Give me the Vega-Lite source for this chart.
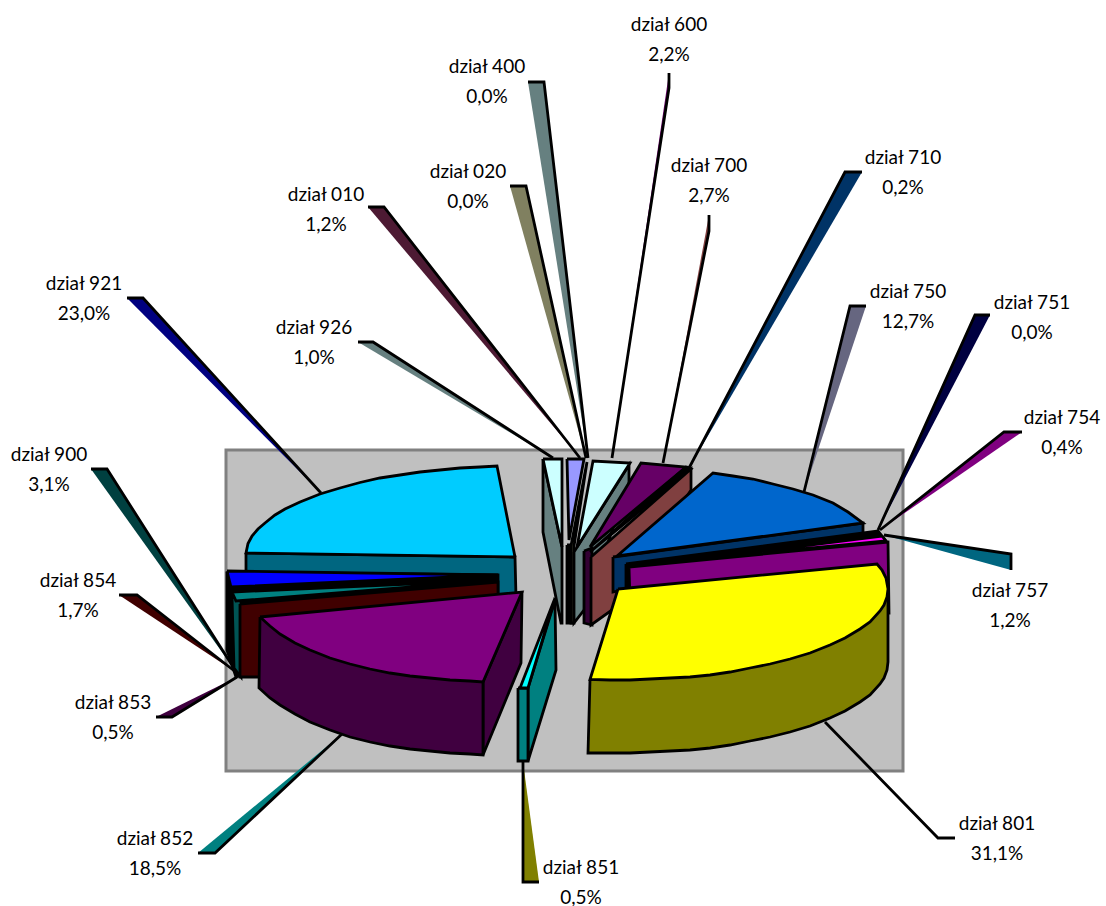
{"$schema":"https://vega.github.io/schema/vega-lite/v6.json","width":1106,"height":906,"padding":0,"autosize":{"type":"none"},"background":"white","config":{"view":{"stroke":null}},
"datasets":{
"panel":[{"x":226,"x2":903,"y":450,"y2":771}],
"leaders":[
{"shape":"400","i":0,"x":528,"y":82},{"shape":"400","i":1,"x":544,"y":82},{"shape":"400","i":2,"x":588,"y":458},
{"shape":"020","i":0,"x":510,"y":186},{"shape":"020","i":1,"x":526,"y":186},{"shape":"020","i":2,"x":586,"y":458},
{"shape":"010","i":0,"x":368,"y":207},{"shape":"010","i":1,"x":384,"y":207},{"shape":"010","i":2,"x":580,"y":458},
{"shape":"926","i":0,"x":358,"y":342},{"shape":"926","i":1,"x":373,"y":342},{"shape":"926","i":2,"x":553,"y":458},
{"shape":"600","i":0,"x":669,"y":73},{"shape":"600","i":1,"x":669,"y":88},{"shape":"600","i":2,"x":612,"y":458},
{"shape":"700","i":0,"x":709,"y":215},{"shape":"700","i":1,"x":709,"y":231},{"shape":"700","i":2,"x":663,"y":463},
{"shape":"710","i":0,"x":862,"y":172},{"shape":"710","i":1,"x":845,"y":172},{"shape":"710","i":2,"x":688,"y":470},
{"shape":"750","i":0,"x":866,"y":306},{"shape":"750","i":1,"x":850,"y":306},{"shape":"750","i":2,"x":804,"y":492},
{"shape":"751","i":0,"x":990,"y":315},{"shape":"751","i":1,"x":975,"y":315},{"shape":"751","i":2,"x":878,"y":530},
{"shape":"754","i":0,"x":1022,"y":432},{"shape":"754","i":1,"x":1004,"y":432},{"shape":"754","i":2,"x":880,"y":530},
{"shape":"757","i":0,"x":1011,"y":570},{"shape":"757","i":1,"x":1011,"y":554},{"shape":"757","i":2,"x":884,"y":535},
{"shape":"801","i":0,"x":955,"y":838},{"shape":"801","i":1,"x":938,"y":838},{"shape":"801","i":2,"x":825,"y":722},
{"shape":"852","i":0,"x":198,"y":853},{"shape":"852","i":1,"x":215,"y":853},{"shape":"852","i":2,"x":342,"y":734},
{"shape":"851","i":0,"x":539,"y":882},{"shape":"851","i":1,"x":523,"y":882},{"shape":"851","i":2,"x":523,"y":762},
{"shape":"853","i":0,"x":156,"y":717},{"shape":"853","i":1,"x":172,"y":717},{"shape":"853","i":2,"x":237,"y":677},
{"shape":"854","i":0,"x":119,"y":595},{"shape":"854","i":1,"x":137,"y":595},{"shape":"854","i":2,"x":237,"y":673},
{"shape":"900","i":0,"x":91,"y":469},{"shape":"900","i":1,"x":107,"y":469},{"shape":"900","i":2,"x":237,"y":673},
{"shape":"921","i":0,"x":127,"y":298},{"shape":"921","i":1,"x":143,"y":298},{"shape":"921","i":2,"x":321,"y":493}
],
"faces":[
{"shape":"921 wall","i":0,"x":246,"y":553},{"shape":"921 wall","i":1,"x":515,"y":557},{"shape":"921 wall","i":2,"x":516,"y":597},{"shape":"921 wall","i":3,"x":246,"y":590},{"shape":"921 wall","i":4,"x":246,"y":553},
{"shape":"921 top","i":0,"x":515,"y":557},{"shape":"921 top","i":1,"x":497,"y":466},{"shape":"921 top","i":2,"x":480,"y":467},{"shape":"921 top","i":3,"x":460,"y":468},{"shape":"921 top","i":4,"x":440,"y":470},{"shape":"921 top","i":5,"x":420,"y":472},{"shape":"921 top","i":6,"x":400,"y":475},{"shape":"921 top","i":7,"x":380,"y":478},{"shape":"921 top","i":8,"x":360,"y":482.5},{"shape":"921 top","i":9,"x":340,"y":488},{"shape":"921 top","i":10,"x":320,"y":494},{"shape":"921 top","i":11,"x":300,"y":502},{"shape":"921 top","i":12,"x":285,"y":509},{"shape":"921 top","i":13,"x":275,"y":515},{"shape":"921 top","i":14,"x":265,"y":523},{"shape":"921 top","i":15,"x":258,"y":529},{"shape":"921 top","i":16,"x":252,"y":536},{"shape":"921 top","i":17,"x":248,"y":543.5},{"shape":"921 top","i":18,"x":246,"y":553},{"shape":"921 top","i":19,"x":515,"y":557},
{"shape":"900 wall","i":0,"x":227,"y":572},{"shape":"900 wall","i":1,"x":498,"y":575},{"shape":"900 wall","i":2,"x":498,"y":592},{"shape":"900 wall","i":3,"x":236,"y":677},{"shape":"900 wall","i":4,"x":227,"y":650},{"shape":"900 wall","i":5,"x":227,"y":572},
{"shape":"900 top","i":0,"x":227,"y":571},{"shape":"900 top","i":1,"x":498,"y":575},{"shape":"900 top","i":2,"x":231,"y":587},{"shape":"900 top","i":3,"x":227,"y":571},
{"shape":"853 wall","i":0,"x":232,"y":597},{"shape":"853 wall","i":1,"x":241,"y":600},{"shape":"853 wall","i":2,"x":241,"y":677},{"shape":"853 wall","i":3,"x":234,"y":668},{"shape":"853 wall","i":4,"x":232,"y":597},
{"shape":"853 top","i":0,"x":232,"y":592},{"shape":"853 top","i":1,"x":498,"y":580},{"shape":"853 top","i":2,"x":236,"y":601},{"shape":"853 top","i":3,"x":232,"y":592},
{"shape":"854 wall","i":0,"x":240,"y":604},{"shape":"854 wall","i":1,"x":498,"y":582},{"shape":"854 wall","i":2,"x":498,"y":594},{"shape":"854 wall","i":3,"x":262,"y":677},{"shape":"854 wall","i":4,"x":240,"y":677},{"shape":"854 wall","i":5,"x":240,"y":604},
{"shape":"926 wall","i":0,"x":543,"y":459},{"shape":"926 wall","i":1,"x":562,"y":547},{"shape":"926 wall","i":2,"x":562,"y":623},{"shape":"926 wall","i":3,"x":561,"y":623},{"shape":"926 wall","i":4,"x":543,"y":532},{"shape":"926 wall","i":5,"x":543,"y":459},
{"shape":"926 top","i":0,"x":543,"y":459},{"shape":"926 top","i":1,"x":562,"y":459},{"shape":"926 top","i":2,"x":562,"y":547},{"shape":"926 top","i":3,"x":543,"y":459},
{"shape":"400 wall","i":0,"x":567,"y":545},{"shape":"400 wall","i":1,"x":572,"y":545},{"shape":"400 wall","i":2,"x":572,"y":623},{"shape":"400 wall","i":3,"x":567,"y":623},{"shape":"400 wall","i":4,"x":567,"y":545},
{"shape":"400 top","i":0,"x":567,"y":459},{"shape":"400 top","i":1,"x":584,"y":459},{"shape":"400 top","i":2,"x":569,"y":540},{"shape":"400 top","i":3,"x":567,"y":459},
{"shape":"020 wall","i":0,"x":587,"y":462},{"shape":"020 wall","i":1,"x":574,"y":546},{"shape":"020 wall","i":2,"x":574,"y":623},{"shape":"020 wall","i":3,"x":571,"y":623},{"shape":"020 wall","i":4,"x":571,"y":546},{"shape":"020 wall","i":5,"x":587,"y":462},
{"shape":"600 wall","i":0,"x":574,"y":552},{"shape":"600 wall","i":1,"x":629,"y":465},{"shape":"600 wall","i":2,"x":629,"y":483},{"shape":"600 wall","i":3,"x":584,"y":610},{"shape":"600 wall","i":4,"x":574,"y":623},{"shape":"600 wall","i":5,"x":574,"y":552},
{"shape":"600 top","i":0,"x":577,"y":547},{"shape":"600 top","i":1,"x":593,"y":461},{"shape":"600 top","i":2,"x":630,"y":463},{"shape":"600 top","i":3,"x":577,"y":547},
{"shape":"700 wall","i":0,"x":584,"y":551},{"shape":"700 wall","i":1,"x":592,"y":548},{"shape":"700 wall","i":2,"x":592,"y":625},{"shape":"700 wall","i":3,"x":584,"y":623},{"shape":"700 wall","i":4,"x":584,"y":551},
{"shape":"700 top","i":0,"x":590,"y":547},{"shape":"700 top","i":1,"x":641,"y":463},{"shape":"700 top","i":2,"x":686,"y":467},{"shape":"700 top","i":3,"x":590,"y":547},
{"shape":"710 top","i":0,"x":590,"y":552},{"shape":"710 top","i":1,"x":686,"y":467},{"shape":"710 top","i":2,"x":691,"y":469},{"shape":"710 top","i":3,"x":590,"y":552},
{"shape":"710 wall","i":0,"x":591,"y":557},{"shape":"710 wall","i":1,"x":691,"y":469},{"shape":"710 wall","i":2,"x":691,"y":490},{"shape":"710 wall","i":3,"x":612,"y":610},{"shape":"710 wall","i":4,"x":591,"y":625},{"shape":"710 wall","i":5,"x":591,"y":557},
{"shape":"750 wall","i":0,"x":613,"y":557},{"shape":"750 wall","i":1,"x":863,"y":523},{"shape":"750 wall","i":2,"x":863,"y":535},{"shape":"750 wall","i":3,"x":613,"y":592},{"shape":"750 wall","i":4,"x":613,"y":557},
{"shape":"750 top","i":0,"x":617,"y":556},{"shape":"750 top","i":1,"x":713,"y":473},{"shape":"750 top","i":2,"x":733,"y":476},{"shape":"750 top","i":3,"x":753,"y":479},{"shape":"750 top","i":4,"x":773,"y":484},{"shape":"750 top","i":5,"x":793,"y":489},{"shape":"750 top","i":6,"x":813,"y":495},{"shape":"750 top","i":7,"x":833,"y":503},{"shape":"750 top","i":8,"x":848,"y":512},{"shape":"750 top","i":9,"x":863,"y":523},{"shape":"750 top","i":10,"x":617,"y":556},
{"shape":"754 wall","i":0,"x":626,"y":564},{"shape":"754 wall","i":1,"x":878,"y":531},{"shape":"754 wall","i":2,"x":886,"y":541},{"shape":"754 wall","i":3,"x":886,"y":560},{"shape":"754 wall","i":4,"x":626,"y":592},{"shape":"754 wall","i":5,"x":626,"y":564},
{"shape":"757 top","i":0,"x":882,"y":536},{"shape":"757 top","i":1,"x":886,"y":541},{"shape":"757 top","i":2,"x":707,"y":558},{"shape":"757 top","i":3,"x":882,"y":536},
{"shape":"757 wall","i":0,"x":629,"y":567},{"shape":"757 wall","i":1,"x":888,"y":542},{"shape":"757 wall","i":2,"x":889,"y":613},{"shape":"757 wall","i":3,"x":630,"y":600},{"shape":"757 wall","i":4,"x":629,"y":567},
{"shape":"801 wall","i":0,"x":590,"y":680},{"shape":"801 wall","i":1,"x":588,"y":753},{"shape":"801 wall","i":2,"x":610,"y":753},{"shape":"801 wall","i":3,"x":630,"y":753},{"shape":"801 wall","i":4,"x":650,"y":752},{"shape":"801 wall","i":5,"x":670,"y":751},{"shape":"801 wall","i":6,"x":690,"y":750},{"shape":"801 wall","i":7,"x":710,"y":748},{"shape":"801 wall","i":8,"x":730,"y":745},{"shape":"801 wall","i":9,"x":750,"y":741},{"shape":"801 wall","i":10,"x":770,"y":737},{"shape":"801 wall","i":11,"x":790,"y":732},{"shape":"801 wall","i":12,"x":810,"y":726},{"shape":"801 wall","i":13,"x":830,"y":718},{"shape":"801 wall","i":14,"x":845,"y":711},{"shape":"801 wall","i":15,"x":860,"y":702},{"shape":"801 wall","i":16,"x":870,"y":695},{"shape":"801 wall","i":17,"x":880,"y":684},{"shape":"801 wall","i":18,"x":884,"y":678},{"shape":"801 wall","i":19,"x":887,"y":670},{"shape":"801 wall","i":20,"x":888,"y":662},{"shape":"801 wall","i":21,"x":888,"y":589},{"shape":"801 wall","i":22,"x":590,"y":680},
{"shape":"801 top","i":0,"x":618,"y":589},{"shape":"801 top","i":1,"x":877,"y":564},{"shape":"801 top","i":2,"x":882,"y":570},{"shape":"801 top","i":3,"x":886,"y":578},{"shape":"801 top","i":4,"x":888,"y":589},{"shape":"801 top","i":5,"x":887,"y":597},{"shape":"801 top","i":6,"x":884,"y":605},{"shape":"801 top","i":7,"x":880,"y":611},{"shape":"801 top","i":8,"x":870,"y":622},{"shape":"801 top","i":9,"x":860,"y":629},{"shape":"801 top","i":10,"x":845,"y":638},{"shape":"801 top","i":11,"x":830,"y":645},{"shape":"801 top","i":12,"x":810,"y":653},{"shape":"801 top","i":13,"x":790,"y":659},{"shape":"801 top","i":14,"x":770,"y":664},{"shape":"801 top","i":15,"x":750,"y":668},{"shape":"801 top","i":16,"x":730,"y":672},{"shape":"801 top","i":17,"x":710,"y":675},{"shape":"801 top","i":18,"x":690,"y":677},{"shape":"801 top","i":19,"x":670,"y":678},{"shape":"801 top","i":20,"x":650,"y":679},{"shape":"801 top","i":21,"x":630,"y":680},{"shape":"801 top","i":22,"x":610,"y":680},{"shape":"801 top","i":23,"x":590,"y":679.5},{"shape":"801 top","i":24,"x":618,"y":589},
{"shape":"852 side","i":0,"x":522,"y":592},{"shape":"852 side","i":1,"x":521,"y":663},{"shape":"852 side","i":2,"x":483,"y":755},{"shape":"852 side","i":3,"x":483,"y":682},{"shape":"852 side","i":4,"x":522,"y":592},
{"shape":"852 wall","i":0,"x":260,"y":617},{"shape":"852 wall","i":1,"x":259,"y":688},{"shape":"852 wall","i":2,"x":270,"y":698},{"shape":"852 wall","i":3,"x":280,"y":705},{"shape":"852 wall","i":4,"x":295,"y":714},{"shape":"852 wall","i":5,"x":310,"y":722},{"shape":"852 wall","i":6,"x":330,"y":730},{"shape":"852 wall","i":7,"x":350,"y":737},{"shape":"852 wall","i":8,"x":370,"y":742},{"shape":"852 wall","i":9,"x":390,"y":746},{"shape":"852 wall","i":10,"x":410,"y":749},{"shape":"852 wall","i":11,"x":430,"y":751},{"shape":"852 wall","i":12,"x":450,"y":753},{"shape":"852 wall","i":13,"x":470,"y":754},{"shape":"852 wall","i":14,"x":483,"y":755},{"shape":"852 wall","i":15,"x":483,"y":682},{"shape":"852 wall","i":16,"x":260,"y":617},
{"shape":"852 top","i":0,"x":260,"y":617},{"shape":"852 top","i":1,"x":522,"y":592},{"shape":"852 top","i":2,"x":483,"y":682},{"shape":"852 top","i":3,"x":470,"y":681},{"shape":"852 top","i":4,"x":450,"y":680},{"shape":"852 top","i":5,"x":430,"y":678},{"shape":"852 top","i":6,"x":410,"y":676},{"shape":"852 top","i":7,"x":390,"y":673},{"shape":"852 top","i":8,"x":370,"y":669},{"shape":"852 top","i":9,"x":350,"y":664},{"shape":"852 top","i":10,"x":330,"y":658},{"shape":"852 top","i":11,"x":310,"y":650},{"shape":"852 top","i":12,"x":295,"y":643},{"shape":"852 top","i":13,"x":280,"y":634},{"shape":"852 top","i":14,"x":270,"y":626},{"shape":"852 top","i":15,"x":260,"y":617},
{"shape":"851 side","i":0,"x":555,"y":600},{"shape":"851 side","i":1,"x":556,"y":670},{"shape":"851 side","i":2,"x":528,"y":761},{"shape":"851 side","i":3,"x":528,"y":688},{"shape":"851 side","i":4,"x":555,"y":600},
{"shape":"851 wall","i":0,"x":518,"y":688},{"shape":"851 wall","i":1,"x":528,"y":688},{"shape":"851 wall","i":2,"x":528,"y":761},{"shape":"851 wall","i":3,"x":518,"y":761},{"shape":"851 wall","i":4,"x":518,"y":688},
{"shape":"851 top","i":0,"x":555,"y":598},{"shape":"851 top","i":1,"x":528,"y":688},{"shape":"851 top","i":2,"x":520,"y":688},{"shape":"851 top","i":3,"x":555,"y":598}
],
"labels":[
{"label":"dział 600\n2,2%","x":669,"y":25},{"label":"dział 400\n0,0%","x":487,"y":67},{"label":"dział 020\n0,0%","x":468,"y":172},{"label":"dział 010\n1,2%","x":326,"y":195},{"label":"dział 700\n2,7%","x":709,"y":166},{"label":"dział 710\n0,2%","x":903,"y":158},{"label":"dział 750\n12,7%","x":908,"y":292},{"label":"dział 751\n0,0%","x":1032,"y":303},{"label":"dział 754\n0,4%","x":1062,"y":418},{"label":"dział 757\n1,2%","x":1010,"y":591},{"label":"dział 926\n1,0%","x":314,"y":328},{"label":"dział 921\n23,0%","x":84,"y":284},{"label":"dział 900\n3,1%","x":49,"y":455},{"label":"dział 854\n1,7%","x":78,"y":581},{"label":"dział 853\n0,5%","x":113,"y":703},{"label":"dział 852\n18,5%","x":155,"y":839},{"label":"dział 851\n0,5%","x":581,"y":868},{"label":"dział 801\n31,1%","x":997,"y":824}
]},
"layer":[
{"data":{"name":"panel"},"mark":{"type":"rect","fill":"#C0C0C0","stroke":"#808080","strokeWidth":3},"encoding":{"x":{"field":"x","type":"quantitative","scale":{"domain":[0,1106],"nice":false,"zero":false},"axis":null},"x2":{"field":"x2"},"y":{"field":"y","type":"quantitative","scale":{"domain":[906,0],"nice":false,"zero":false},"axis":null},"y2":{"field":"y2"}}},
{"data":{"name":"leaders"},"mark":{"type":"line","filled":true,"strokeWidth":0},"encoding":{"x":{"field":"x","type":"quantitative","axis":null},"y":{"field":"y","type":"quantitative","axis":null},"order":{"field":"i","type":"quantitative"},"detail":{"field":"shape"},"fill":{"field":"shape","type":"nominal","legend":null,"scale":{"domain":["400","020","010","926","600","700","710","750","751","754","757","801","852","851","853","854","900","921"],"range":["#668080","#808060","#4D1A33","#668080","#660066","#804040","#003366","#666680","#000040","#800080","#006680","rgba(0,0,0,0)","#008080","#808000","#400040","#400000","#004040","#000080"]}}}},
{"data":{"name":"leaders"},"mark":{"type":"line","stroke":"#000000","strokeWidth":2.8,"strokeJoin":"miter"},"encoding":{"x":{"field":"x","type":"quantitative","axis":null},"y":{"field":"y","type":"quantitative","axis":null},"order":{"field":"i","type":"quantitative"},"detail":{"field":"shape"}}},
{"data":{"name":"faces"},"mark":{"type":"line","filled":true,"stroke":"#000000","strokeWidth":2.8,"strokeJoin":"miter"},"encoding":{"x":{"field":"x","type":"quantitative","axis":null},"y":{"field":"y","type":"quantitative","axis":null},"order":{"field":"i","type":"quantitative"},"detail":{"field":"shape"},"fill":{"field":"shape","type":"nominal","legend":null,"scale":{"domain":["921 wall","921 top","900 wall","900 top","853 wall","853 top","854 wall","926 wall","926 top","400 wall","400 top","020 wall","600 wall","600 top","700 wall","700 top","710 top","710 wall","750 wall","750 top","754 wall","757 top","757 wall","801 wall","801 top","852 side","852 wall","852 top","851 side","851 wall","851 top"],"range":["#006680","#00CCFF","#000000","#0000FF","#005555","#008080","#400000","#668080","#CCFFFF","#000000","#9999FF","#808060","#668080","#CCFFFF","#330033","#660066","#000000","#804040","#003366","#0066CC","#000000","#FF00FF","#800080","#808000","#FFFF00","#400040","#400040","#800080","#008080","#008080","#00FFFF"]}}}},
{"data":{"name":"labels"},"mark":{"type":"text","font":"Lato","fontSize":19,"lineBreak":"\n","lineHeight":29.5,"align":"center","baseline":"middle","color":"#000000"},"encoding":{"x":{"field":"x","type":"quantitative","axis":null},"y":{"field":"y","type":"quantitative","axis":null},"text":{"field":"label"}}}
],
"resolve":{"scale":{"fill":"independent"}}}
